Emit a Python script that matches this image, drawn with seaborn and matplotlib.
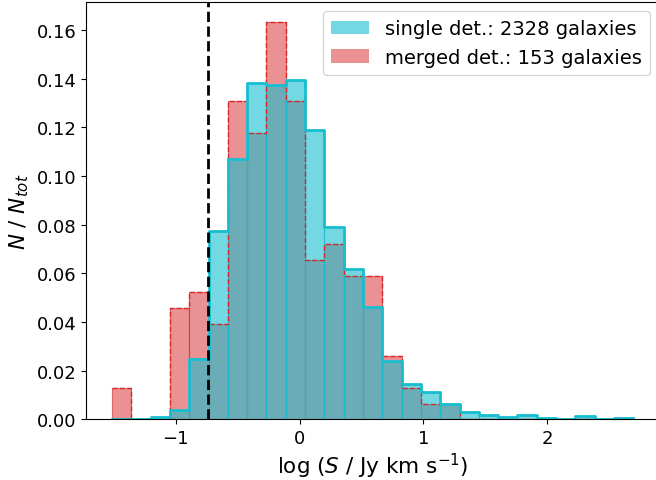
import numpy as np
import pandas as pd
import matplotlib
matplotlib.use("Agg")
import matplotlib.pyplot as plt
from matplotlib.patches import Patch
from matplotlib.colors import to_rgba
import seaborn as sns

# bin range of log(S / Jy km s^-1)
bin_lo, bin_hi, n_bins = -1.513, 2.694, 27
bin_edges = np.linspace(bin_lo, bin_hi, n_bins + 1)
bin_centers = 0.5 * (bin_edges[:-1] + bin_edges[1:])

# normalised counts N/N_tot per bin
single_frac = [0.0, 0.0004, 0.0009, 0.0037, 0.0250, 0.0773, 0.1070, 0.1383,
               0.1375, 0.1396, 0.1190, 0.0790, 0.0619, 0.0460, 0.0241, 0.0146,
               0.0112, 0.0064, 0.0030, 0.0017, 0.0012, 0.0017, 0.0008, 0.0004,
               0.0013, 0.0004, 0.0008]
merged_frac = [0.0131, 0.0, 0.0, 0.0458, 0.0523, 0.0392, 0.1307, 0.1176,
               0.1634, 0.1307, 0.0654, 0.0719, 0.0588, 0.0588, 0.0261, 0.0131,
               0.0065, 0.0065, 0.0, 0.0, 0.0, 0.0, 0.0, 0.0, 0.0, 0.0, 0.0]

label_single = "single det.: 2328 galaxies"
label_merged = "merged det.: 153 galaxies"
limit_line = -0.738

cyan = "#17becf"
red = "#d62728"

df = pd.DataFrame({"logS": bin_centers,
                   "single": single_frac,
                   "merged": merged_frac})

fig = plt.figure(figsize=(6.56, 4.81), dpi=100)
ax = fig.add_axes([0.1311, 0.1258, 0.874, 0.8686])

hkw = dict(data=df, x="logS", bins=n_bins, binrange=(bin_lo, bin_hi), ax=ax)

# merged detections (drawn first)
sns.histplot(weights="merged", element="bars", fill=True, color=red, alpha=0.5,
             edgecolor=to_rgba(red, 0.6), linewidth=0.8, **hkw)
sns.histplot(weights="merged", element="step", fill=False, color=red,
             linewidth=1.0, linestyle="--", **hkw)

# single detections
sns.histplot(weights="single", element="bars", fill=True, color=cyan, alpha=0.6,
             edgecolor=to_rgba(cyan, 0.7), linewidth=0.8, **hkw)
sns.histplot(weights="single", element="step", fill=False, color=cyan,
             linewidth=2.0, **hkw)

ax.axvline(limit_line, color="black", linestyle="--", linewidth=2, zorder=5)

ax.set_xlim(-1.723, 2.904)
ax.set_ylim(0, 0.1716)
ax.set_xticks([-1, 0, 1, 2])
ax.set_yticks(np.arange(0, 0.17, 0.02))
ax.tick_params(labelsize=13)
ax.set_xlabel(r"log ($S$ / Jy km s$^{-1}$)", fontsize=15.5, labelpad=2.5)
ax.set_ylabel(r"$N$ / $N_{tot}$", fontsize=15.5)

handles = [Patch(facecolor=to_rgba(cyan, 0.6), edgecolor="none"),
           Patch(facecolor=to_rgba(red, 0.5), edgecolor="none")]
ax.legend(handles, [label_single, label_merged], loc="upper right", fontsize=14)

fig.savefig("out.png", dpi=100)
